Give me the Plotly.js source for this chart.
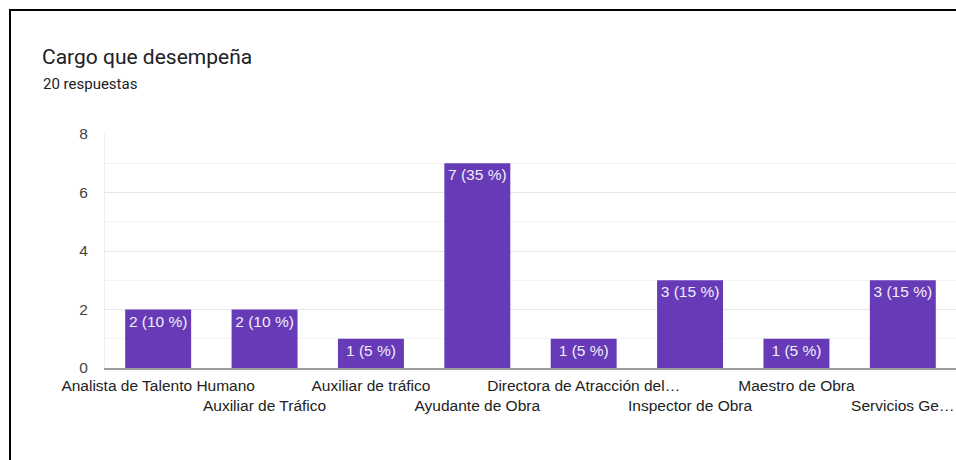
<!DOCTYPE html>
<html>
<head>
<meta charset="utf-8">
<script src="https://cdn.plot.ly/plotly-3.0.1.min.js"></script>
<style>
  html, body { margin: 0; padding: 0; background: #fff; overflow: hidden; width: 956px; height: 460px; }
  #chart { position: absolute; left: 0; top: 0; width: 956px; height: 460px; }
  #frame { position: absolute; left: 9px; top: 9px; width: 960px; height: 470px;
           border-left: 2px solid #000; border-top: 2px solid #000; pointer-events: none; }
</style>
</head>
<body>
<div id="chart"></div>
<div id="frame"></div>
<script>
const categories = [
  "Analista de Talento Humano",
  "Auxiliar de Tráfico",
  "Auxiliar de tráfico",
  "Ayudante de Obra",
  "Directora de Atracción del…",
  "Inspector de Obra",
  "Maestro de Obra",
  "Servicios Ge…"
];
const counts = [2, 2, 1, 7, 1, 3, 1, 3];
const percents = [10, 10, 5, 35, 5, 15, 5, 15];
const totalResponses = 20;
const yTicks = [0, 2, 4, 6, 8];

const barLabels = counts.map((c, i) => c + " (" + percents[i] + " %)");
const tickText = categories.map((c, i) => (i % 2 === 1 ? "<br>" + c : c));

const ARIAL = "Arial, 'Liberation Sans', sans-serif";
const ROBOTO = "Roboto, Arial, sans-serif";

const trace = {
  type: "bar",
  x: categories,
  y: counts,
  text: barLabels,
  texttemplate: "%{text}",
  textposition: "inside",
  insidetextanchor: "end",
  textangle: 0,
  constraintext: "none",
  textfont: { family: ARIAL, size: 15.5, color: "#f1eef8" },
  marker: { color: "#673ab7", line: { width: 0 } },
  hoverinfo: "none",
  cliponaxis: false
};

const W = 956;
const layout = {
  width: W,
  height: 460,
  margin: { l: 105, r: 0, t: 134, b: 92 },
  paper_bgcolor: "#ffffff",
  plot_bgcolor: "#ffffff",
  bargap: 0.38,
  showlegend: false,
  title: {
    text: "Cargo que desempeña",
    font: { family: ROBOTO, size: 21, color: "#202124" },
    xref: "container", yref: "container",
    x: 42 / W, xanchor: "left",
    y: 1 - 57 / 460, yanchor: "middle"
  },
  annotations: [{
    text: totalResponses + " respuestas",
    xref: "paper", yref: "paper",
    x: (41 - 105) / (W - 105), xanchor: "left",
    y: 1 + (134 - 84) / 234, yanchor: "middle",
    showarrow: false,
    font: { family: ROBOTO, size: 15, color: "#202124" }
  }],
  xaxis: {
    type: "category",
    tickvals: categories,
    ticktext: tickText,
    tickangle: 0,
    showgrid: false,
    showline: true,
    linecolor: "#9e9e9e",
    linewidth: 2,
    ticks: "",
    ticklabelstandoff: 2,
    tickfont: { family: ARIAL, size: 15.5, color: "#222222" },
    fixedrange: true
  },
  yaxis: {
    range: [0, 8],
    tickvals: yTicks,
    showgrid: true,
    gridcolor: "#e6e6e6",
    gridwidth: 1,
    minor: { dtick: 1, showgrid: true, gridcolor: "#f3f3f3", gridwidth: 1 },
    zeroline: false,
    showline: true,
    linecolor: "#eeeeee",
    linewidth: 1,
    ticks: "",
    ticklabelstandoff: 13,
    tickfont: { family: ARIAL, size: 15.5, color: "#444444" },
    fixedrange: true
  }
};

Plotly.newPlot("chart", [trace], layout, { staticPlot: true, displayModeBar: false });
</script>
</body>
</html>
